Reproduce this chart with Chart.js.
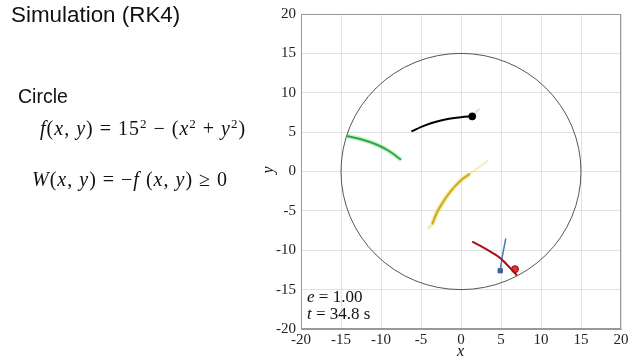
<!DOCTYPE html>
<html>
<head>
<meta charset="utf-8">
<script src="https://cdn.jsdelivr.net/npm/chart.js@4.4.1/dist/chart.umd.min.js"></script>
<style>
  html, body { margin:0; padding:0; background:#fff; }
  #wrap { position:relative; width:640px; height:360px; overflow:hidden; }
  #c { position:absolute; left:0; top:0; }
  .t { position:absolute; white-space:nowrap; line-height:1; color:#111; }
  .sans { font-family:"Liberation Sans", Arial, sans-serif; }
  .serif { font-family:"Liberation Serif", "Times New Roman", serif; }
  .m i { font-style:italic; }
  .m .op { margin:0 6px; }
  sup { font-size:0.65em; vertical-align:0.55em; line-height:0; }
</style>
</head>
<body>
<div id="wrap">
  <canvas id="c" width="640" height="360"></canvas>
  <div class="t sans" style="left:11px;top:4px;font-size:22.4px;">Simulation (RK4)</div>
  <div class="t sans" style="left:18px;top:87px;font-size:19.5px;">Circle</div>
  <div class="t serif m" style="left:40px;top:118px;font-size:20px;letter-spacing:1px;"><i>f</i>(<i>x</i>, <i>y</i>)<span class="op">=</span>15<sup>2</sup><span class="op">−</span>(<i>x</i><sup>2</sup><span class="op">+</span><i>y</i><sup>2</sup>)</div>
  <div class="t serif m" style="left:32px;top:169px;font-size:20px;letter-spacing:1px;"><i>W</i>(<i>x</i>, <i>y</i>)<span class="op">=</span>−<i>f</i> (<i>x</i>, <i>y</i>)<span class="op">≥</span>0</div>
  <div class="t serif m" style="left:307px;top:288px;font-size:17px;"><i>e</i> = 1.00</div>
  <div class="t serif m" style="left:307px;top:305px;font-size:17px;"><i>t</i> = 34.8 s</div>
  <div class="t serif" style="left:457px;top:343px;font-size:16px;font-style:italic;">x</div>
  <div class="t serif" style="left:264px;top:162px;font-size:16px;font-style:italic;transform:rotate(-90deg);">y</div>
</div>
<script>
// ---- data ----
const X_TICKS = [-20, -15, -10, -5, 0, 5, 10, 15, 20];
const Y_TICKS = [-20, -15, -10, -5, 0, 5, 10, 15, 20];
const CIRCLE_RADIUS = 15;

const blackPath = [[-6.2,5.1],[-4.5,5.85],[-3.0,6.35],[-1.5,6.7],[0,6.9],[1.4,7.0]];
const blackFaint = [[1.4,7.0],[2.3,8.0]];
const greenPath = [[-14.3,4.5],[-12.5,4.1],[-10.5,3.4],[-9.0,2.6],[-7.5,1.5]];
const goldPath = [[-3.6,-6.7],[-3.0,-5.2],[-2.2,-3.8],[-1.2,-2.4],[0,-1.1],[1.1,-0.3]];
const goldFaint = [[1.1,-0.3],[3.4,1.4]];
const goldFaint2 = [[-4.2,-7.3],[-3.6,-6.7]];
const redPath = [[1.4,-8.9],[3.2,-9.9],[4.9,-11.0],[6.0,-12.1],[7.0,-13.2]];
const bluePath = [[4.9,-12.6],[5.2,-10.6],[5.6,-8.5]];
const blackDot = [[1.4,7.0]];
const redDot = [[6.75,-12.4]];
const blueDot = [[4.9,-12.6]];

const pts = a => a.map(p => ({x:p[0], y:p[1]}));
function line(data, color, width, extra) {
  return Object.assign({ data: pts(data), showLine:true, borderColor:color, borderWidth:width,
    pointRadius:0, fill:false, cubicInterpolationMode:'monotone' }, extra || {});
}

const circlePlugin = {
  id:'circle',
  beforeDatasetsDraw(chart) {
    const {ctx, scales:{x, y}} = chart;
    const cx = x.getPixelForValue(0), cy = y.getPixelForValue(0);
    const rx = Math.abs(x.getPixelForValue(CIRCLE_RADIUS) - cx);
    const ry = Math.abs(y.getPixelForValue(CIRCLE_RADIUS) - cy);
    ctx.save();
    ctx.strokeStyle = '#555';
    ctx.lineWidth = 1;
    ctx.beginPath();
    ctx.ellipse(cx, cy, rx, ry, 0, 0, Math.PI*2);
    ctx.stroke();
    ctx.restore();
  }
};

new Chart(document.getElementById('c'), {
  type:'scatter',
  data:{ datasets:[
    line(blackFaint, 'rgba(0,0,0,0.12)', 2),
    line(greenPath, 'rgba(60,200,80,0.25)', 5),
    line(greenPath, '#2a9d3a', 2),
    line(goldFaint, 'rgba(230,200,40,0.3)', 2),
    line(goldFaint2, 'rgba(230,200,60,0.35)', 3),
    line(goldPath, 'rgba(230,200,40,0.35)', 5),
    line(goldPath, '#c09a10', 2),
    line(blackPath, '#000', 2),
    line(redPath, '#a8101e', 2),
    line(bluePath, '#4a78b8', 1.5),
    { data:pts(blackDot), pointRadius:3.5, pointBackgroundColor:'#000', pointBorderColor:'#000' },
    { data:pts(redDot), pointRadius:3.5, pointBackgroundColor:'#e03030', pointBorderColor:'#8a1010' },
    { data:pts(blueDot), pointRadius:3, pointStyle:'rect', pointBackgroundColor:'#3a5a90', pointBorderColor:'#3a5a90' }
  ]},
  options:{
    responsive:false, animation:false,
    layout:{ padding:{ left:0, top:9, right:19, bottom:0 } },
    plugins:{ legend:{display:false}, tooltip:{enabled:false} },
    scales:{
      x:{ type:'linear', min:-20, max:20,
        afterFit(s){ s.height = 31; },
        afterBuildTicks(s){ s.ticks = X_TICKS.map(v => ({value:v})); },
        grid:{ color:'#e2e2e2', drawTicks:false },
        border:{ color:'#999' },
        ticks:{ color:'#222', padding:2, font:{ family:'"Liberation Serif", serif', size:15 } }
      },
      y:{ type:'linear', min:-20, max:20,
        afterFit(s){ s.width = 301; },
        afterBuildTicks(s){ s.ticks = Y_TICKS.map(v => ({value:v})); },
        grid:{ color:'#e2e2e2', drawTicks:false },
        border:{ color:'#999' },
        ticks:{ color:'#222', padding:5, font:{ family:'"Liberation Serif", serif', size:15 } }
      }
    }
  },
  plugins:[circlePlugin, {
    id:'frame',
    afterDraw(chart){
      const {ctx, chartArea:a} = chart;
      ctx.save(); ctx.strokeStyle='#999'; ctx.lineWidth=1;
      ctx.strokeRect(a.left+0.5, a.top+0.5, a.right-a.left-1, a.bottom-a.top-1);
      ctx.restore();
    }
  }]
});
</script>
</body>
</html>
